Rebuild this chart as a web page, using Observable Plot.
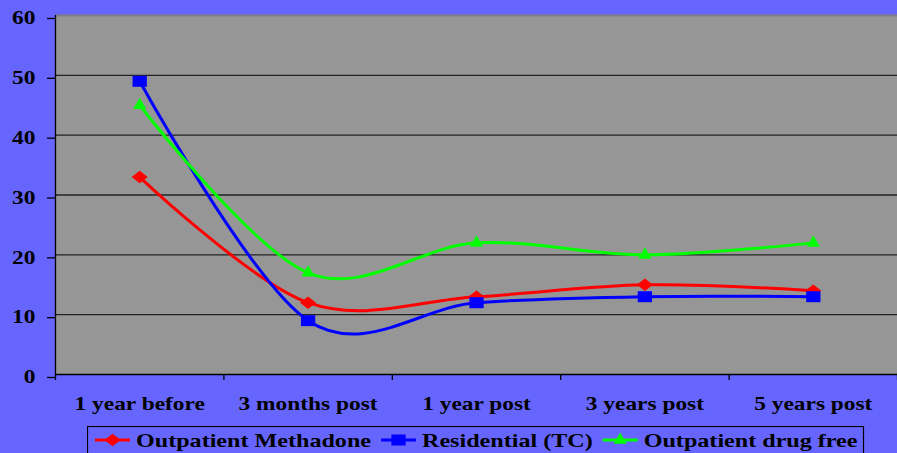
<!DOCTYPE html>
<html>
<head>
<meta charset="utf-8">
<script src="https://cdn.jsdelivr.net/npm/d3@7"></script>
<script src="https://cdn.jsdelivr.net/npm/@observablehq/plot@0.6"></script>
<style>
  html, body { margin: 0; padding: 0; background: #6666FF; }
  body { width: 897px; height: 453px; overflow: hidden; font-family: "Liberation Serif", "Times New Roman", serif; font-weight: bold; }
  #chart svg { display: block; }
  #legend { display: block; margin-left: 87px; margin-top: 4px; }
</style>
</head>
<body>
<div id="chart"></div>
<svg id="legend" width="778" height="40"></svg>
<script>
const categories = ["1 year before", "3 months post", "1 year post", "3 years post", "5 years post"];
const seriesNames = ["Outpatient Methadone", "Residential (TC)", "Outpatient drug free"];
const methadone = [33, 12, 13, 15, 14];
const residential = [49, 9, 12, 13, 13];
const drugFree = [45, 17, 22, 20, 22];
const yTicks = [0, 10, 20, 30, 40, 50, 60];
const colors = ["#FF0000", "#0000FF", "#00FF00"];
const symbols = ["diamond2", "square", "triangle"];
const markerR = [5.6, 6.2, 4.9];
const markerStretch = [true, true, false];
const FONT = 18;
const SX = 1.3;   // horizontal stretch of the original picture
const SXL = 1.34; // legend text stretch

const seriesValues = [methadone, residential, drugFree];
const data = seriesValues.flatMap((vals, s) => vals.map((v, i) => ({series: seriesNames[s], i, value: v})));
const idx = categories.map((_, i) => i);
const bounds = categories.map((_, i) => i - 0.5).concat([categories.length - 0.5]);

const chart = Plot.plot({
  width: 897,
  height: 422,
  marginLeft: 55,
  marginRight: 0,
  marginTop: 15,
  marginBottom: 48,
  style: {background: "#6666FF", fontFamily: "Liberation Serif, Times New Roman, serif", fontWeight: "bold", fontSize: FONT + "px", color: "#000", overflow: "visible"},
  x: {type: "linear", domain: [-0.5, categories.length - 0.5], axis: null},
  y: {domain: [0, 60], axis: null},
  color: {domain: seriesNames, range: colors},
  symbol: {domain: seriesNames, range: symbols},
  marks: [
    Plot.frame({fill: "#969696", stroke: null}),
    Plot.ruleY(yTicks.filter(d => d > 0 && d < 60), {stroke: "#222", strokeWidth: 1.3}),
    Plot.ruleY([60], {stroke: "#7f7f7f", strokeWidth: 2}),
    Plot.ruleY([0], {stroke: "#000", strokeWidth: 1.3}),
    Plot.ruleX([-0.5], {stroke: "#000", strokeWidth: 1.3}),
    Plot.axisY({ticks: yTicks, tickSize: 8, tickPadding: 12, dy: 3, tickFormat: d => d, fontSize: FONT, strokeWidth: 1.3, label: null}),
    Plot.axisX({ticks: bounds, tickSize: 6, tickFormat: () => "", strokeWidth: 1.3, label: null}),
    Plot.axisX({ticks: idx, tickSize: 0, tickPadding: 23, tickFormat: i => categories[i], fontSize: FONT, label: null}),
    Plot.line(data, {x: "i", y: "value", z: "series", stroke: "series", strokeWidth: 3, curve: "cardinal"}),
    ...seriesNames.map((name, s) =>
      Plot.dot(data.filter(d => d.series === name), {x: "i", y: "value", symbol: "series", fill: "series", stroke: null, r: markerR[s], className: markerStretch[s] ? "stretchdot" : "plaindot"}))
  ]
});
document.getElementById("chart").appendChild(chart);

function stretch(el) {
  const t = el.getAttribute("transform") || "";
  const xa = el.getAttribute("x");
  if (xa !== null && isFinite(+xa)) {
    el.removeAttribute("x");
    el.setAttribute("transform", `${t} translate(${+xa},0) scale(${SX},1)`);
  } else {
    el.setAttribute("transform", `${t} scale(${SX},1)`);
  }
}
d3.select(chart).selectAll("text").each(function() { stretch(this); });
d3.select(chart).selectAll(".stretchdot path").each(function() { stretch(this); });

// Legend
const legend = d3.select("#legend");
legend.append("rect").attr("x", 0.5).attr("y", 0.5).attr("width", 776).attr("height", 38)
  .attr("fill", "none").attr("stroke", "#000").attr("stroke-width", 1.2);
const symFns = [d3.symbolDiamond2, d3.symbolSquare, d3.symbolTriangle];
let cx = 8;
seriesNames.forEach((name, s) => {
  const g = legend.append("g");
  g.append("line").attr("x1", cx).attr("x2", cx + 35).attr("y1", 14).attr("y2", 14)
    .attr("stroke", colors[s]).attr("stroke-width", 3);
  const area = Math.PI * markerR[s] * markerR[s];
  g.append("path").attr("d", d3.symbol(symFns[s], area)())
    .attr("transform", `translate(${cx + 17.5},14)` + (markerStretch[s] ? ` scale(${SX},1)` : ""))
    .attr("fill", colors[s]);
  const tx = cx + 41;
  const text = g.append("text").text(name)
    .attr("transform", `translate(${tx},21) scale(${SXL},1)`)
    .attr("font-family", "Liberation Serif, Times New Roman, serif")
    .attr("font-weight", "bold").attr("font-size", FONT).attr("fill", "#000");
  const w = text.node().getComputedTextLength() * SXL;
  cx = tx + w + 10;
});
</script>
</body>
</html>
